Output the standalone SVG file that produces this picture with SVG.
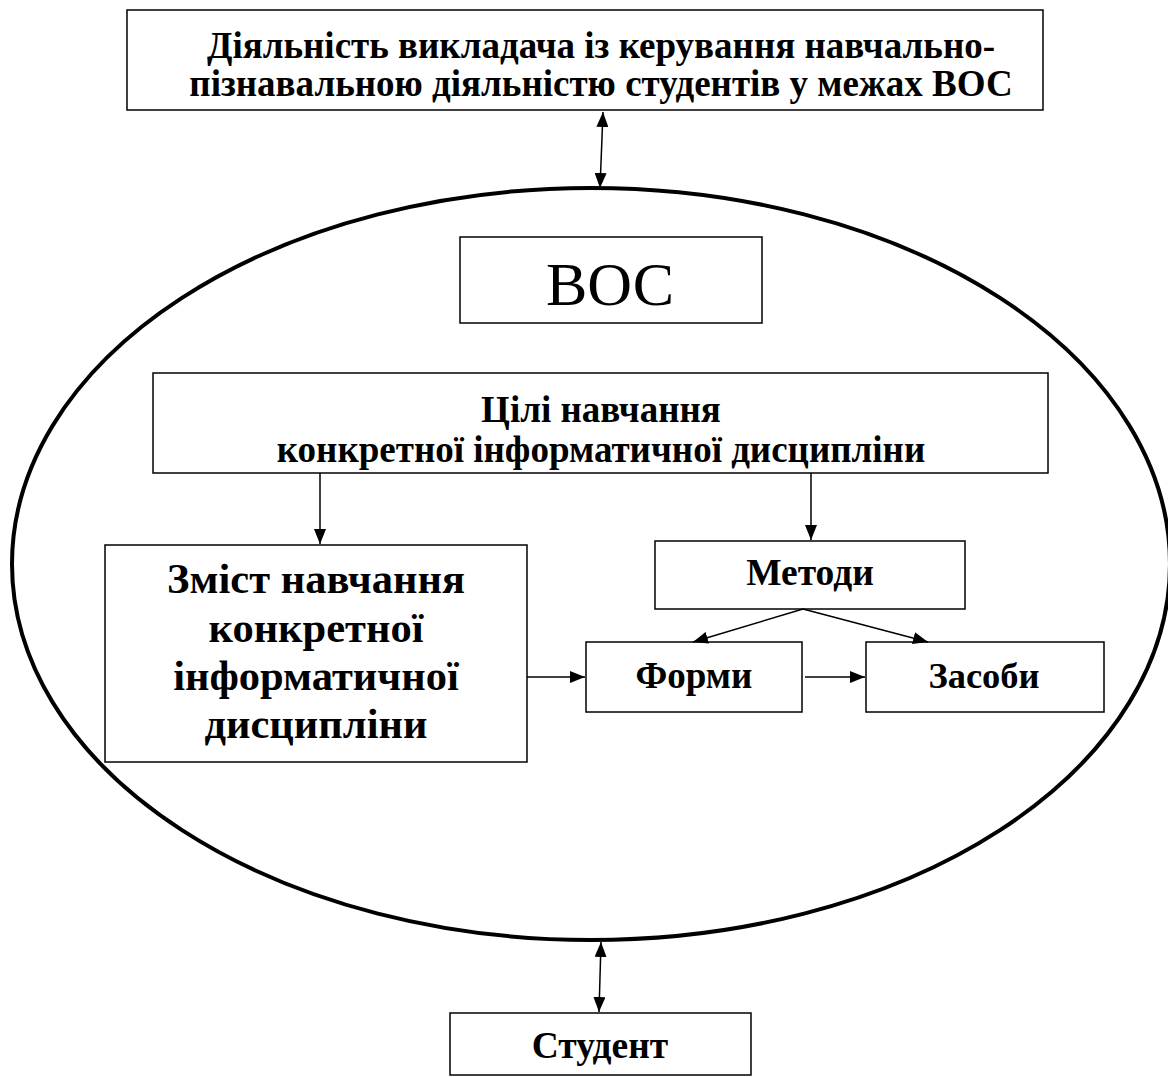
<svg xmlns="http://www.w3.org/2000/svg" width="1168" height="1077" viewBox="0 0 1168 1077">
<style>
.box{fill:#fff;stroke:#000;stroke-width:1.5}
.t{font-family:"Liberation Serif","Times New Roman","DejaVu Serif",serif;font-weight:bold;fill:#000;text-anchor:middle}
.n{font-family:"Liberation Serif","Times New Roman","DejaVu Serif",serif;fill:#000;text-anchor:middle}
.c{stroke:#000;stroke-width:1.5;fill:none}
</style>
<defs>
<marker id="ah" viewBox="0 0 15 12" refX="15" refY="6" markerWidth="15" markerHeight="12" markerUnits="userSpaceOnUse" orient="auto-start-reverse">
<path d="M0,0 L15,6 L0,12 z" fill="#000"/>
</marker>
</defs>
<rect width="1168" height="1077" fill="#fff"/>
<g id="voc-ellipse">
<ellipse cx="591" cy="564" rx="579" ry="376" fill="none" stroke="#000" stroke-width="4"/>
</g>
<g id="teacher">
<rect class="box" x="127" y="10" width="916" height="100"/>
<text class="t" x="601" y="58" font-size="37">Діяльність викладача із керування навчально-</text>
<text class="t" x="601" y="96" font-size="37">пізнавальною діяльністю студентів у межах ВОС</text>
</g>
<g id="voc">
<rect class="box" x="460" y="237" width="302" height="86"/>
<text class="n" x="610" y="305" font-size="62">ВОС</text>
</g>
<g id="goals">
<rect class="box" x="153" y="373" width="895" height="100"/>
<text class="t" x="601" y="422" font-size="37">Цілі навчання</text>
<text class="t" x="601" y="462" font-size="37">конкретної інформатичної дисципліни</text>
</g>
<g id="content">
<rect class="box" x="105" y="545" width="422" height="217"/>
<text class="t" x="316" y="593" font-size="42.5">Зміст навчання</text>
<text class="t" x="316" y="642" font-size="42.5">конкретної</text>
<text class="t" x="316" y="690" font-size="42.5">інформатичної</text>
<text class="t" x="316" y="738" font-size="42.5">дисципліни</text>
</g>
<g id="methods">
<rect class="box" x="655" y="541" width="310" height="68"/>
<text class="t" x="810" y="585" font-size="37.5">Методи</text>
</g>
<g id="forms">
<rect class="box" x="586" y="642" width="216" height="70"/>
<text class="t" x="694" y="688" font-size="37">Форми</text>
</g>
<g id="means">
<rect class="box" x="866" y="642" width="238" height="70"/>
<text class="t" x="984" y="688" font-size="36.5">Засоби</text>
</g>
<g id="student">
<rect class="box" x="450" y="1013" width="301" height="62"/>
<text class="t" x="600" y="1058" font-size="37.5">Студент</text>
</g>
<g id="connectors">
<line class="c" x1="603" y1="112" x2="600" y2="188" marker-start="url(#ah)" marker-end="url(#ah)"/>
<line class="c" x1="601" y1="942" x2="599" y2="1012" marker-start="url(#ah)" marker-end="url(#ah)"/>
<line class="c" x1="320" y1="473" x2="320" y2="544" marker-end="url(#ah)"/>
<line class="c" x1="811" y1="473" x2="811" y2="540" marker-end="url(#ah)"/>
<line class="c" x1="803" y1="609" x2="693" y2="642" marker-end="url(#ah)"/>
<line class="c" x1="803" y1="609" x2="928" y2="642" marker-end="url(#ah)"/>
<line class="c" x1="527" y1="677" x2="585" y2="677" marker-end="url(#ah)"/>
<line class="c" x1="805" y1="677" x2="865" y2="677" marker-end="url(#ah)"/>
</g>
</svg>
